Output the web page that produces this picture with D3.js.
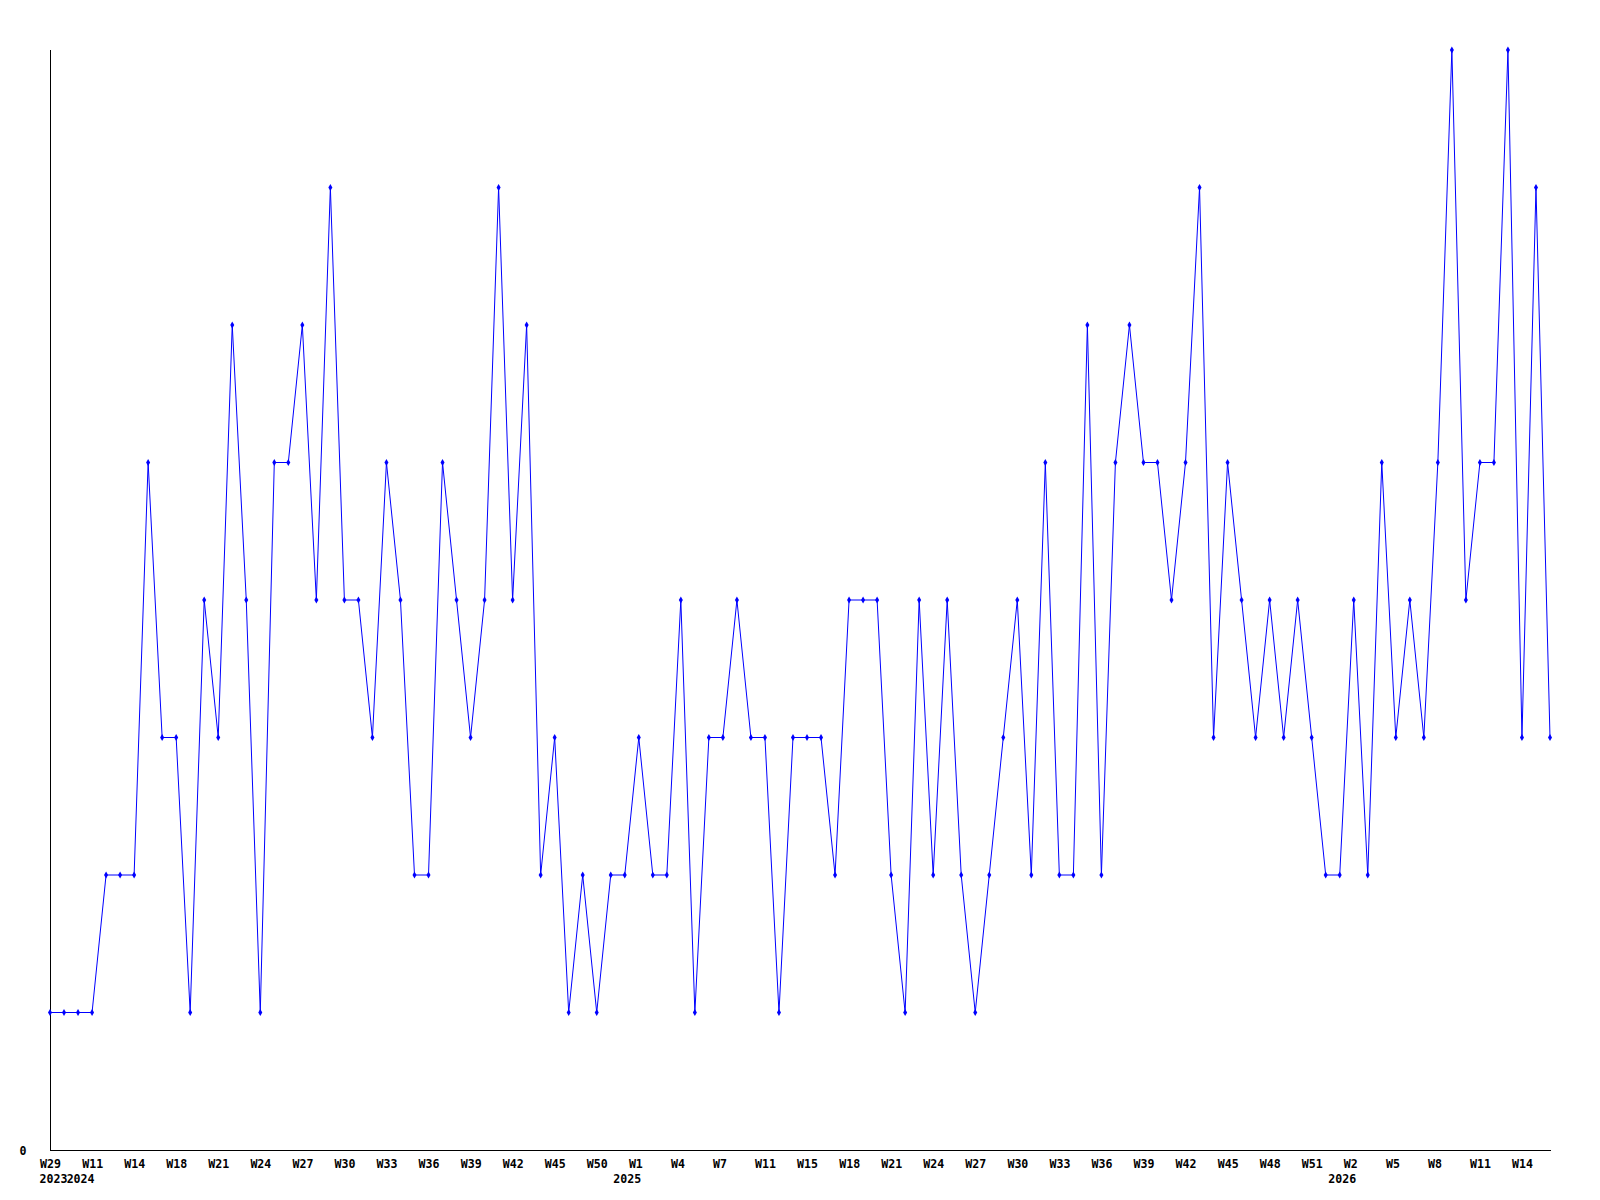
<!DOCTYPE html>
<html><head><meta charset="utf-8">
<script src="https://cdn.jsdelivr.net/npm/d3@7"></script>
<style>
html,body{margin:0;padding:0;background:#fff;}
svg{display:block;}
text{font-family:"DejaVu Sans Mono",monospace;font-weight:bold;font-size:11.6px;fill:#000;}
</style></head>
<body>
<script>
// Categories: ISO year and week of each data point
const years = [2023,2024,2024,2024,2024,2024,2024,2024,2024,2024,
  2024,2024,2024,2024,2024,2024,2024,2024,2024,2024,
  2024,2024,2024,2024,2024,2024,2024,2024,2024,2024,
  2024,2024,2024,2024,2024,2024,2024,2024,2024,2024,
  2024,2024,2025,2025,2025,2025,2025,2025,2025,2025,
  2025,2025,2025,2025,2025,2025,2025,2025,2025,2025,
  2025,2025,2025,2025,2025,2025,2025,2025,2025,2025,
  2025,2025,2025,2025,2025,2025,2025,2025,2025,2025,
  2025,2025,2025,2025,2025,2025,2025,2025,2025,2025,
  2025,2025,2025,2026,2026,2026,2026,2026,2026,2026,
  2026,2026,2026,2026,2026,2026,2026,2026];
const weeks = [29,9,10,11,12,13,14,16,17,18,
  19,20,21,22,23,24,25,26,27,28,
  29,30,31,32,33,34,35,36,37,38,
  39,40,41,42,43,44,45,47,49,50,
  51,52,1,2,3,4,5,6,7,8,
  10,11,12,13,15,16,17,18,19,20,
  21,22,23,24,25,26,27,28,29,30,
  31,32,33,34,35,36,37,38,39,40,
  41,42,43,44,45,46,47,48,49,50,
  51,52,1,2,3,4,5,6,7,8,
  9,10,11,12,13,14,15,16];
// Series values
const values = [1,1,1,1,2,2,2,5,3,3,
  1,4,3,6,4,1,5,5,6,4,
  7,4,4,3,5,4,2,2,5,4,
  3,4,7,4,6,2,3,1,2,1,
  2,2,3,2,2,4,1,3,3,4,
  3,3,1,3,3,3,2,4,4,4,
  2,1,4,2,4,2,1,2,3,4,
  2,5,2,2,6,2,5,6,5,5,
  4,5,7,3,5,4,3,4,3,4,
  3,2,2,4,2,5,3,4,3,5,
  8,4,5,5,8,3,7,3];
// Tick labels on the y axis
const yTicks = [0];
const labelStep = 3;

const W = 1600, H = 1200;
const svg = d3.select("body").append("svg").attr("width", W).attr("height", H);

const idx = d3.range(values.length);
const x = d3.scalePoint().domain(idx).range([50, 1550]);
const y = d3.scaleLinear().domain([0, 8]).range([1150, 50]);

const xAxis = d3.axisBottom(x)
  .tickValues(idx.filter(i => i % labelStep === 0))
  .tickSize(0)
  .tickFormat(i => "W" + weeks[i]);
const gx = svg.append("g").attr("transform", "translate(0,1150)").call(xAxis);
gx.select(".domain").attr("d", "M50.5,0.5H1550.5").attr("stroke", "#000").attr("shape-rendering", "crispEdges");
gx.selectAll(".tick text")
  .attr("font-family", null).attr("font-size", null)
  .attr("text-anchor", "start").attr("dx", -10.4).attr("y", 17.5).attr("dy", 0);

const yAxis = d3.axisLeft(y).tickValues(yTicks).tickSize(0).tickFormat(d3.format("d"));
const gy = svg.append("g").attr("transform", "translate(50,0)").call(yAxis);
gy.select(".domain").attr("d", "M0.5,50H0.5V1150.5").attr("stroke", "#000").attr("shape-rendering", "crispEdges");
gy.selectAll(".tick text")
  .attr("font-family", null).attr("font-size", null)
  .attr("text-anchor", "start").attr("x", -30.5).attr("dy", 0).attr("y", 4.5);

// year labels at first labelled tick of each year
const yearLabels = [];
idx.filter(i => i % labelStep === 0).forEach((i, k, arr) => {
  if (k === 0 || years[i] !== years[arr[k - 1]]) yearLabels.push(i);
});
svg.append("g").selectAll("text").data(yearLabels).join("text")
  .attr("x", (i, k) => k === 0 ? x(i) - 10.4 : x(i) + 2.5)
  .attr("y", 1183)
  .attr("text-anchor", (i, k) => k === 0 ? "start" : "end")
  .text(i => years[i]);

// line
const line = d3.line().x((d, i) => x(i)).y(d => y(d));
svg.append("path").datum(values)
  .attr("d", line).attr("fill", "none").attr("stroke", "#0000ff").attr("stroke-width", 1);

// markers
svg.append("g").selectAll("path").data(values).join("path")
  .attr("transform", (d, i) => `translate(${x(i)},${y(d)})`)
  .attr("d", d3.symbol().type(d3.symbolDiamond).size(14))
  .attr("fill", "#0000ff");
</script>
</body></html>
